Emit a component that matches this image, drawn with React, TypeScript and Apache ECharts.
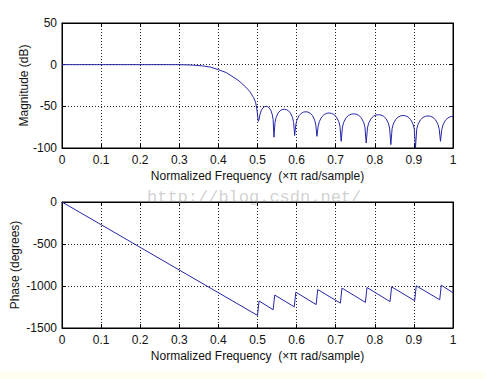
import React, { useEffect, useRef } from "react";
import * as echarts from "echarts";

// Magnitude response (normalized frequency, dB)
const magFreq = [
  0, 0.1, 0.2, 0.3, 0.33, 0.36, 0.38, 0.4, 0.42, 0.44, 0.45, 0.46, 0.47, 0.48, 0.49, 0.495, 0.498, 0.502,
  0.504, 0.506, 0.51, 0.514, 0.518, 0.522, 0.526, 0.53, 0.534, 0.538, 0.54, 0.542,
  0.5447, 0.5473, 0.5526, 0.5579, 0.5632, 0.5685, 0.5738, 0.5791, 0.5844, 0.5897, 0.5924, 0.595,
  0.5979, 0.6007, 0.6064, 0.6121, 0.6178, 0.6235, 0.6292, 0.6349, 0.6406, 0.6463, 0.6492, 0.652,
  0.6551, 0.6582, 0.6644, 0.6706, 0.6768, 0.683, 0.6892, 0.6954, 0.7016, 0.7078, 0.7109, 0.714,
  0.7172, 0.7204, 0.7268, 0.7332, 0.7396, 0.746, 0.7524, 0.7588, 0.7652, 0.7716, 0.7748, 0.778,
  0.7812, 0.7843, 0.7906, 0.7969, 0.8032, 0.8095, 0.8158, 0.8221, 0.8284, 0.8347, 0.8379, 0.841,
  0.8442, 0.8473, 0.8536, 0.8599, 0.8662, 0.8725, 0.8788, 0.8851, 0.8914, 0.8977, 0.9009, 0.904,
  0.9072, 0.9104, 0.9168, 0.9232, 0.9296, 0.936, 0.9424, 0.9488, 0.9552, 0.9616, 0.9648, 0.968,
  0.9712, 0.9744, 0.9808, 0.9872, 0.9936, 1.0,
];
const magDb = [
  0, 0, 0, 0, -0.4, -1.5, -3, -6, -9.5, -15.5, -18.5, -22.5, -27, -32, -39.5, -45, -52, -68,
  -66, -60.2, -54.6, -51.8, -50.4, -50, -50.4, -51.8, -54.6, -60.2, -66, -87,
  -69.5, -63.7, -58.1, -55.3, -53.9, -53.5, -53.9, -55.3, -58.1, -63.7, -69.5, -85,
  -72.5, -66.7, -61.1, -58.3, -56.9, -56.5, -56.9, -58.3, -61.1, -66.7, -72.5, -86,
  -74, -68.2, -62.6, -59.8, -58.4, -58, -58.4, -59.8, -62.6, -68.2, -74, -92,
  -75, -69.2, -63.6, -60.8, -59.4, -59, -59.4, -60.8, -63.6, -69.2, -75, -94,
  -76, -70.2, -64.6, -61.8, -60.4, -60, -60.4, -61.8, -64.6, -70.2, -76, -96,
  -77, -71.2, -65.6, -62.8, -61.4, -61, -61.4, -62.8, -65.6, -71.2, -77, -100,
  -77.5, -71.7, -66.1, -63.3, -61.9, -61.5, -61.9, -63.3, -66.1, -71.7, -77.5, -92,
  -78, -72.2, -66.6, -63.8, -62.4, -62,
];

// Phase response (normalized frequency, degrees)
const phaseFreq = [
  0, 0.5, 0.504, 0.54, 0.544, 0.594, 0.598, 0.65, 0.654, 0.712, 0.716, 0.776, 0.78,
  0.839, 0.843, 0.902, 0.906, 0.966, 0.97, 1.0,
];
const phaseDeg = [
  0, -1350, -1178, -1283, -1108, -1248, -1073, -1221, -1042, -1204, -1025, -1195, -1018,
  -1186, -1010, -1175, -998, -1164, -990, -1080,
];

const xTicks = ["0", "0.1", "0.2", "0.3", "0.4", "0.5", "0.6", "0.7", "0.8", "0.9", "1"];
const xName = "Normalized Frequency \u00a0(\u00d7\u03c0 rad/sample)";

const FONT = "'Liberation Sans', Arial, Helvetica, sans-serif";
const TXT = "#111";

function makeX(gridIndex: number, main: boolean) {
  return {
    gridIndex,
    type: "value",
    min: 0,
    max: 1,
    interval: 0.1,
    position: main ? "bottom" : "top",
    axisLine: { show: true, onZero: false, lineStyle: { color: "#000", width: 1 } },
    axisTick: { show: true, inside: true, length: 4, lineStyle: { color: "#000" } },
    axisLabel: main
      ? {
          show: true,
          color: TXT,
          fontSize: 12,
          fontFamily: FONT,
          margin: 6,
          formatter: (v: number) => xTicks[Math.round(v * 10)] ?? "",
        }
      : { show: false },
    splitLine: main
      ? { show: true, lineStyle: { color: "#222", type: [1, 2], width: 1 } }
      : { show: false },
    name: main ? xName : "",
    nameLocation: "middle",
    nameGap: 22,
    nameMoveOverlap: false,
    nameTextStyle: { color: TXT, fontSize: 12, fontFamily: FONT },
  };
}

function makeY(gridIndex: number, main: boolean, min: number, max: number, interval: number, name: string, nameGap: number) {
  return {
    gridIndex,
    type: "value",
    min,
    max,
    interval,
    position: main ? "left" : "right",
    axisLine: { show: true, onZero: false, lineStyle: { color: "#000", width: 1 } },
    axisTick: { show: true, inside: true, length: 4, lineStyle: { color: "#000" } },
    axisLabel: main
      ? {
          show: true,
          color: TXT,
          fontSize: 12,
          fontFamily: FONT,
          margin: 5,
          formatter: (v: number) => String(Math.round(v)),
        }
      : { show: false },
    splitLine: main
      ? { show: true, lineStyle: { color: "#222", type: [1, 2], width: 1 } }
      : { show: false },
    name: main ? name : "",
    nameLocation: "middle",
    nameGap,
    nameMoveOverlap: false,
    nameTextStyle: { color: TXT, fontSize: 12, fontFamily: FONT },
  };
}

export default function App() {
  const ref = useRef<HTMLDivElement>(null);
  useEffect(() => {
    if (!ref.current) return;
    const chart = echarts.init(ref.current, undefined, { renderer: "svg" });
    const magData = magFreq.map((f, i) => [f, magDb[i]]);
    const phaseData = phaseFreq.map((f, i) => [f, phaseDeg[i]]);
    chart.setOption({
      animation: false,
      backgroundColor: "#ffffff",
      grid: [
        { left: 62, top: 23, width: 391, height: 125, show: true, borderColor: "#000", borderWidth: 1, backgroundColor: "#fff", containLabel: false, outerBoundsMode: "none" },
        { left: 62, top: 202, width: 391, height: 126, show: true, borderColor: "#000", borderWidth: 1, backgroundColor: "#fff", containLabel: false, outerBoundsMode: "none" },
      ],
      xAxis: [makeX(0, true), makeX(0, false), makeX(1, true), makeX(1, false)],
      yAxis: [
        makeY(0, true, -100, 50, 50, "Magnitude (dB)", 32),
        makeY(0, false, -100, 50, 50, "", 0),
        makeY(1, true, -1500, 0, 500, "Phase (degrees)", 41),
        makeY(1, false, -1500, 0, 500, "", 0),
      ],
      series: [
        {
          type: "line",
          xAxisIndex: 0,
          yAxisIndex: 0,
          data: magData,
          showSymbol: false,
          symbol: "none",
          lineStyle: { color: "#2626a8", width: 1 },
          clip: true,
        },
        {
          type: "line",
          xAxisIndex: 2,
          yAxisIndex: 2,
          data: phaseData,
          showSymbol: false,
          symbol: "none",
          lineStyle: { color: "#2626a8", width: 1 },
          clip: true,
        },
      ],
      graphic: [
        {
          type: "rect",
          left: 0,
          top: 372,
          shape: { width: 485, height: 7 },
          style: { fill: "#fffef0" },
          silent: true,
        },
        {
          type: "text",
          left: 147,
          top: 189,
          z: 100,
          style: {
            text: "http://blog.csdn.net/",
            fill: "rgba(150,150,150,0.45)",
            font: "17px 'Liberation Mono', 'Courier New', monospace",
          },
          silent: true,
        },
      ],
    });
    return () => chart.dispose();
  }, []);
  return (
    <div
      ref={ref}
      style={{ position: "fixed", left: 0, top: 0, width: 486, height: 379 }}
    />
  );
}
